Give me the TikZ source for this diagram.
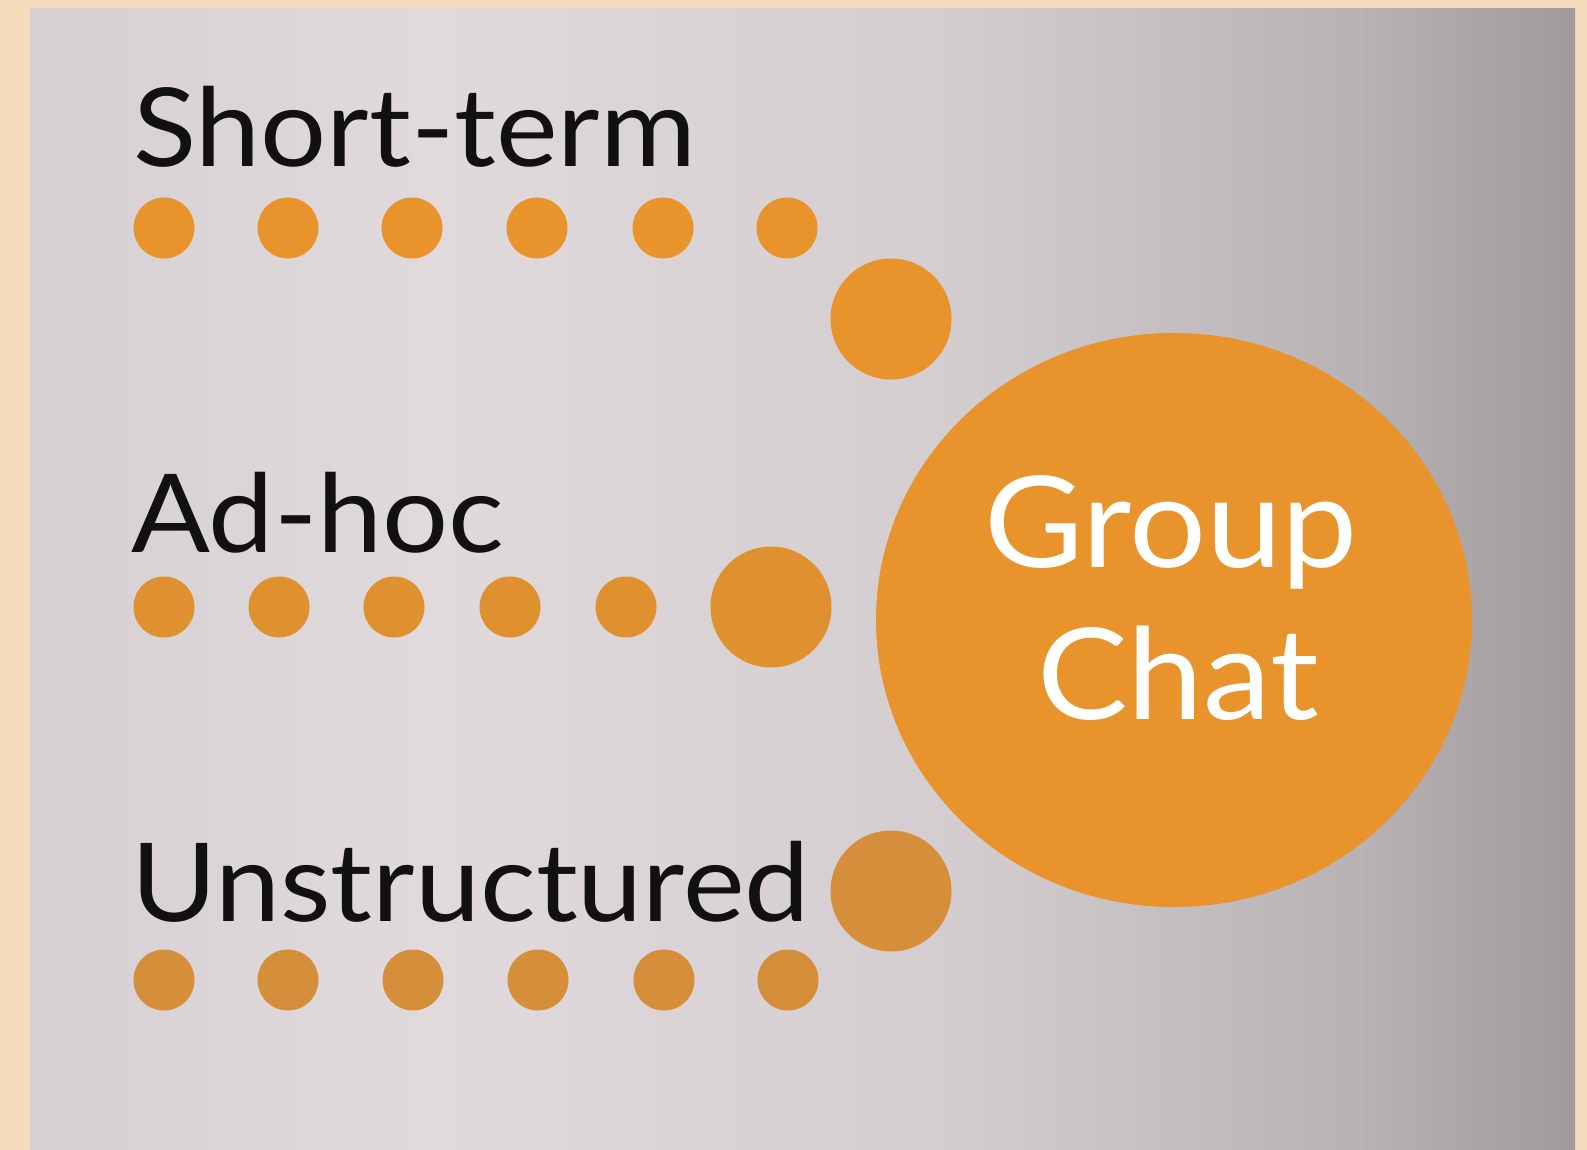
\documentclass[tikz,border=0pt]{standalone}
\usepackage{fontspec}
\setmainfont{Lato}[FakeStretch=1.07]
\usetikzlibrary{shapes.geometric}
\definecolor{beige}{HTML}{F5DABC}
\definecolor{pA}{HTML}{D6D0D3}
\definecolor{pB}{HTML}{E0DADC}
\definecolor{pC}{HTML}{D3CDCF}
\definecolor{pD}{HTML}{B8B2B4}
\definecolor{pE}{HTML}{A09A9C}
\definecolor{orA}{HTML}{E8932C}
\definecolor{orB}{HTML}{DF9130}
\definecolor{orC}{HTML}{D58E3A}
\definecolor{txt}{HTML}{111111}
\pgfdeclarehorizontalshading{panelshade}{100bp}{color(0bp)=(pA); color(25bp)=(pA); color(38bp)=(pB); color(55bp)=(pC); color(68bp)=(pD); color(75bp)=(pE); color(100bp)=(pE)}
\tikzset{
  dot/.style={circle, inner sep=0pt, minimum size=61pt},
  bigdot/.style={circle, inner sep=0pt, minimum size=121pt},
  label/.style={font=\fontsize{109}{120}\selectfont, text=txt, inner sep=0pt, anchor=base west},
  gctext/.style={font=\fontsize{127}{150}\selectfont, text=white, inner sep=0pt, anchor=base}
}
\begin{document}
\begin{tikzpicture}[x=1pt,y=-1pt]
\useasboundingbox (0,0) rectangle (1587,1150);
\fill[beige] (0,0) rectangle (1587,1150);
\shade[shading=panelshade] (30,9) rectangle (1575,1150);
\draw[white, opacity=0.06, line width=1.5pt] (1362,9) -- (1362,1150);

% Group chat circle
\node[ellipse, fill=orA, inner sep=0pt, minimum width=596pt, minimum height=574pt] (gc) at (1174,620) {};
\node[gctext] (gtxt) at (1171,567) {Group};
\node[gctext] (ctxt) at (1178,719) {Chat};

% Row 1
\node[label] (l1) at (133,167) {Short-term};
\foreach \i/\x in {1/164,2/288,3/412,4/537,5/663,6/787}
  \node[dot, fill=orA] (r1d\i) at (\x,228) {};
\node[bigdot, fill=orA] (r1big) at (891,319) {};

% Row 2
\node[label] (l2) at (131,552) {Ad-hoc};
\foreach \i/\x in {1/164,2/279,3/394,4/510,5/626}
  \node[dot, fill=orB] (r2d\i) at (\x,607) {};
\node[bigdot, fill=orB] (r2big) at (771,607) {};

% Row 3
\node[label] (l3) at (131,921) {Unstructured};
\foreach \i/\x in {1/164,2/288,3/413,4/538,5/664,6/788}
  \node[dot, fill=orC] (r3d\i) at (\x,980) {};
\node[bigdot, fill=orC] (r3big) at (891,891) {};
\end{tikzpicture}
\end{document}
